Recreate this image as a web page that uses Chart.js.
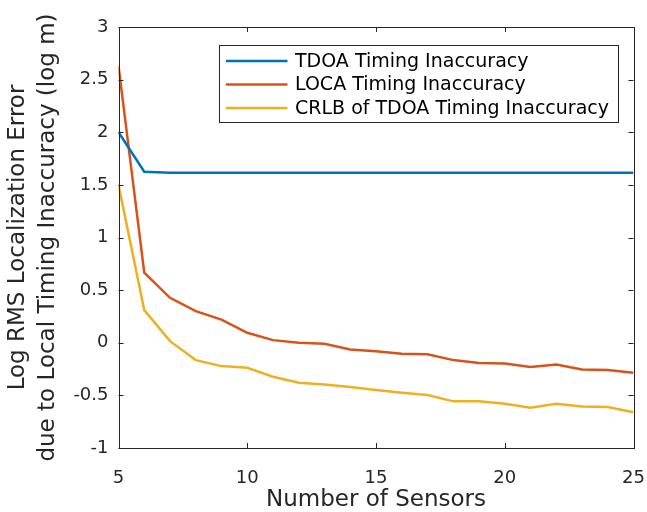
<!DOCTYPE html>
<html>
<head>
<meta charset="utf-8">
<style>
  html, body { margin: 0; padding: 0; background: #fff; }
  #wrap { width: 647px; height: 512px; position: relative; }
</style>
<script src="https://cdn.jsdelivr.net/npm/chart.js@4/dist/chart.umd.min.js"></script>
</head>
<body>
<div id="wrap"><canvas id="chart" width="647" height="512"></canvas></div>
<script>
// data
const sensors = [5, 6, 7, 8, 9, 10, 11, 12, 13, 14, 15, 16, 17, 18, 19, 20, 21, 22, 23, 24, 25];
const tdoaErr = [2.0, 1.625, 1.615, 1.615, 1.615, 1.615, 1.615, 1.615, 1.615, 1.615, 1.615,
                 1.615, 1.615, 1.615, 1.615, 1.615, 1.615, 1.615, 1.615, 1.615, 1.615];
const locaErr = [2.63, 0.665, 0.427, 0.30, 0.22, 0.095, 0.025, 0.0, -0.01, -0.064, -0.08,
                 -0.105, -0.11, -0.165, -0.193, -0.197, -0.23, -0.206, -0.254, -0.26, -0.285];
const crlbErr = [1.50, 0.31, 0.015, -0.165, -0.222, -0.238, -0.323, -0.38, -0.396, -0.42, -0.45,
                 -0.475, -0.497, -0.557, -0.557, -0.58, -0.618, -0.58, -0.605, -0.61, -0.66];
const seriesNames = ['TDOA Timing Inaccuracy', 'LOCA Timing Inaccuracy', 'CRLB of TDOA Timing Inaccuracy'];
const seriesColors = ['#0072BD', '#D95319', '#EDB120'];
const xTicks = [5, 10, 15, 20, 25];
const yTicks = [-1, -0.5, 0, 0.5, 1, 1.5, 2, 2.5, 3];

const FONT = 'DejaVu Sans';
const INK = '#262626';

// matlab-ish box with inward ticks + legend inside the axes
const boxPlugin = {
  id: 'matlabBox',
  afterDatasetsDraw(chart) {
    const ctx = chart.ctx;
    const a = chart.chartArea;
    const xs = chart.scales.x, ys = chart.scales.y;
    const tl = 5;
    ctx.save();
    ctx.strokeStyle = INK;
    ctx.lineWidth = 1;
    ctx.strokeRect(Math.round(a.left) + 0.5, Math.round(a.top) + 0.5,
                   Math.round(a.right - a.left), Math.round(a.bottom - a.top));
    ctx.beginPath();
    xTicks.forEach(v => {
      const px = Math.round(xs.getPixelForValue(v)) + 0.5;
      ctx.moveTo(px, a.bottom); ctx.lineTo(px, a.bottom - tl);
      ctx.moveTo(px, a.top); ctx.lineTo(px, a.top + tl);
    });
    yTicks.forEach(v => {
      const py = Math.round(ys.getPixelForValue(v)) + 0.5;
      ctx.moveTo(a.left, py); ctx.lineTo(a.left + tl, py);
      ctx.moveTo(a.right, py); ctx.lineTo(a.right - tl, py);
    });
    ctx.stroke();

    // legend
    ctx.font = '19px "' + FONT + '"';
    const textW = Math.max(...chart.data.datasets.map(d => ctx.measureText(d.label).width));
    const bw = Math.round(76 + textW + 9), bh = 77;
    const bx = Math.round(a.right - 16 - bw) + 0.5, by = Math.round(a.top + 18) + 0.5;
    ctx.fillStyle = '#fff';
    ctx.fillRect(bx, by, bw, bh);
    ctx.strokeRect(bx, by, bw, bh);
    ctx.textBaseline = 'middle';
    ctx.textAlign = 'left';
    chart.data.datasets.forEach((d, i) => {
      const ry = by + 15.5 + i * 23.5;
      ctx.strokeStyle = d.borderColor;
      ctx.lineWidth = 2.5;
      ctx.beginPath();
      ctx.moveTo(bx + 6.5, ry); ctx.lineTo(bx + 68, ry);
      ctx.stroke();
      ctx.fillStyle = '#000';
      ctx.fillText(d.label, bx + 75.5, ry + 1);
    });
    ctx.restore();
  }
};

const mk = (i, arr) => ({
  label: seriesNames[i],
  data: sensors.map((s, k) => ({ x: s, y: arr[k] })),
  borderColor: seriesColors[i],
  backgroundColor: seriesColors[i],
  borderWidth: 2.5,
  pointRadius: 0,
  tension: 0,
  fill: false
});

new Chart(document.getElementById('chart').getContext('2d'), {
  type: 'line',
  data: { datasets: [mk(0, tdoaErr), mk(1, locaErr), mk(2, crlbErr)] },
  options: {
    responsive: false,
    animation: false,
    layout: { padding: { left: 0, right: 13.5, top: 27, bottom: 0 } },
    plugins: { legend: { display: false }, tooltip: { enabled: false } },
    scales: {
      x: {
        type: 'linear', min: 5, max: 25,
        afterFit: s => { s.height = 64; s.paddingLeft = 0; s.paddingRight = 0; },
        afterBuildTicks: s => { s.ticks = xTicks.map(v => ({ value: v })); },
        grid: { display: false, drawTicks: false },
        border: { display: false },
        ticks: { color: INK, font: { family: FONT, size: 18 }, padding: 20, maxRotation: 0,
                 callback: v => String(v) },
        title: { display: true, text: 'Number of Sensors', color: INK,
                 font: { family: FONT, size: 23, lineHeight: 1.0 }, padding: { top: 0, bottom: 0 } }
      },
      y: {
        type: 'linear', min: -1, max: 3,
        afterFit: s => { s.width = 118.5; s.paddingTop = 0; s.paddingBottom = 0; },
        afterBuildTicks: s => { s.ticks = yTicks.map(v => ({ value: v })); },
        grid: { display: false, drawTicks: false },
        border: { display: false },
        ticks: { color: INK, font: { family: FONT, size: 18 }, padding: 10,
                 callback: v => String(v) },
        title: { display: true, text: ['Log RMS Localization Error', 'due to Local Timing Inaccuracy (log m)'],
                 color: INK, font: { family: FONT, size: 23, lineHeight: 1.3 }, padding: { top: 3, bottom: 0 } }
      }
    }
  },
  plugins: [boxPlugin]
});
</script>
</body>
</html>
